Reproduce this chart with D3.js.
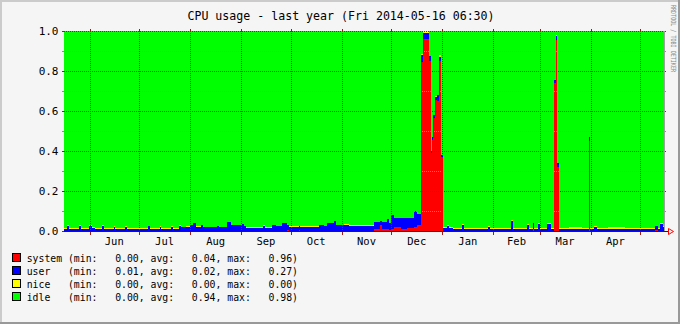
<!DOCTYPE html>
<html><head><meta charset="utf-8">
<script src="https://cdn.jsdelivr.net/npm/d3@7/dist/d3.min.js"></script>
<style>html,body{margin:0;padding:0;background:#f5f5f5}svg{display:block}</style>
</head><body><svg id="c" width="680" height="324"></svg>
<script>
// ---------- data ----------
const title = "CPU usage - last year (Fri 2014-05-16 06:30)";
const watermark = "RRDTOOL / TOBI OETIKER";
const rangeStart = "2013-05-16T12", rangeEnd = "2014-05-15T12";
const monthStarts = ["2013-06-01T00","2013-07-01T00","2013-08-01T00","2013-09-01T00","2013-10-01T00","2013-11-01T00","2013-12-01T00","2014-01-01T00","2014-02-01T00","2014-03-01T00","2014-04-01T00","2014-05-01T00"];
const monthLabels = ["Jun","Jul","Aug","Sep","Oct","Nov","Dec","Jan","Feb","Mar","Apr"];
const yMajorTicks = [0,0.2,0.4,0.6,0.8,1.0];
const yMinorTicks = [0.1,0.3,0.5,0.7,0.9];
const seriesNames = ["system","user","nice","idle"];
const statMin = [0.00,0.01,0.00,0.00];
const statAvg = [0.04,0.02,0.00,0.94];
const statMax = [0.96,0.27,0.00,0.98];

const dates = ["2013-05-16T12","2013-05-18T08","2013-05-19T13","2013-05-25T14","2013-05-26T20","2013-05-31T16","2013-06-02T12","2013-06-04T07","2013-06-08T13","2013-06-09T18",
"2013-06-15T20","2013-06-16T11","2013-06-22T12","2013-06-23T18","2013-07-06T11","2013-07-07T16","2013-07-13T18","2013-07-14T09","2013-07-20T10","2013-07-21T15",
"2013-07-25T07","2013-07-26T12","2013-07-29T13","2013-07-31T23","2013-08-02T19","2013-08-04T14","2013-08-07T15","2013-08-08T20","2013-08-17T08","2013-08-18T13",
"2013-08-23T10","2013-08-25T20","2013-09-01T12","2013-09-02T17","2013-09-03T23","2013-09-14T06","2013-09-15T11","2013-09-19T17","2013-09-22T03","2013-09-25T19",
"2013-09-28T20","2013-09-30T01","2013-10-06T02","2013-10-06T17","2013-10-18T06","2013-10-21T06","2013-10-23T02","2013-10-27T08","2013-10-28T13","2013-11-02T10",
"2013-11-05T11","2013-11-12T17","2013-11-20T15","2013-11-24T06","2013-11-25T11","2013-11-28T12","2013-11-29T17","2013-11-30T22","2013-12-02T18","2013-12-07T00",
"2013-12-10T15","2013-12-14T21","2013-12-16T17","2013-12-19T03","2013-12-20T08","2013-12-23T23","2013-12-25T05","2013-12-25T19","2013-12-26T10","2013-12-27T15",
"2013-12-28T20","2013-12-30T01","2013-12-31T06","2014-01-01T12","2014-01-03T22","2014-01-05T03","2014-01-07T13","2014-01-13T00","2014-01-14T05","2014-01-28T19",
"2014-01-30T00","2014-02-11T18","2014-02-12T23","2014-02-21T11","2014-02-22T16","2014-02-25T02","2014-02-25T17","2014-02-28T03","2014-03-01T08","2014-03-05T14",
"2014-03-08T00","2014-03-09T20","2014-03-11T01","2014-03-11T16","2014-03-12T21","2014-03-18T22","2014-03-26T20","2014-03-30T18","2014-03-31T09","2014-04-03T02",
"2014-04-04T22","2014-04-11T14","2014-04-21T22","2014-05-10T03","2014-05-11T23","2014-05-13T04","2014-05-14T23"];

const system = [0,0,0,0,0,0,0,0,0,0,
0,0,0,0,0,0,0,0,0,0,
0,0,0,0,0,0,0,0,0,0,
0,0,0,0,0,0,0,0,0,0,
.005,0,.005,0,0,0,0,0,0,0,
0,0,.008,.030,.010,.010,.005,.010,.020,.010,
.015,.020,.030,.843,.960,.850,.390,.455,.565,.656,
.650,.850,.370,0,0,0,0,0,0,0,
0,0,0,0,0,.010,0,0,0,0,
0,.740,.955,.320,0,0,0,.450,0,0,
0,0,0,.005,0,0,0];

const user = [.010,.025,.010,.025,.010,.027,.015,.010,.025,.010,
.022,.010,.022,.010,.024,.010,.022,.010,.022,.012,
.026,.018,.022,.030,.040,.022,.028,.018,.025,.020,
.045,.030,.035,.025,.015,.025,.015,.030,.025,.040,
.025,.020,.020,.022,.030,.025,.040,.050,.028,.032,
.025,.027,.035,.020,.035,.050,.035,.070,.045,.055,
.050,.080,.055,.037,.030,.027,.010,.015,.013,.014,
.030,.020,.010,.015,.025,.015,.010,.030,.010,.020,
.010,.050,.010,.030,.010,.030,.010,.035,.012,.033,
.012,.015,.020,.020,.010,.010,.010,.020,.010,.020,
.010,.010,.010,.020,.012,.035,.020];

const nice = [.005,.003,.005,.003,.005,.003,.005,.005,.003,.005,
.003,.005,.003,.005,.003,.005,.003,.005,.003,.005,
.003,.004,.003,.002,.002,.002,.002,.002,.002,.002,
.002,.002,.002,.002,.004,.003,.004,.002,.002,.002,
.002,.003,.002,.003,.002,.002,.002,.002,.004,.002,
.004,.003,.002,.002,.002,.002,.002,.002,.002,.002,
.002,.002,.002,.006,.010,0,0,0,0,.005,
0,.010,0,.003,.005,.005,.005,.003,.005,.003,
.005,.003,.005,.003,.005,.002,.005,.003,.004,.005,
.004,0,.005,0,.005,.008,.005,0,.005,.003,
.005,.008,.005,.002,.005,.003,.003];

const idle = [.985,.972,.985,.972,.985,.970,.980,.985,.972,.985,
.975,.985,.975,.985,.973,.985,.975,.985,.975,.983,
.971,.978,.975,.968,.958,.976,.970,.980,.973,.978,
.953,.968,.963,.973,.981,.972,.981,.968,.973,.958,
.968,.977,.973,.975,.968,.973,.958,.948,.968,.966,
.971,.970,.955,.948,.953,.938,.958,.918,.933,.933,
.933,.898,.913,.114,0,.123,.600,.530,.422,.325,
.320,.120,.620,.982,.970,.980,.985,.967,.985,.977,
.985,.947,.985,.967,.985,.958,.985,.962,.984,.962,
.984,.245,.020,.660,.985,.982,.985,.530,.985,.977,
.985,.982,.985,.973,.983,.962,.977];

// ---------- styles ----------
const colors = {system:"#FF0000", user:"#0000FF", nice:"#FFFF00", idle:"#00FF00"};
const MONO = "'DejaVu Sans Mono', monospace";
const MGRID = "#9a1c1c", GRID = "#8f8f8f";

// ---------- drawing ----------
const parse = d3.timeParse("%Y-%m-%dT%H");
const svg = d3.select("#c");
const W = 680, H = 324;
const L = 64, R = 664, T = 31, B = 231;

svg.append("rect").attr("width", W).attr("height", H).attr("fill", "#f5f5f5");
// 3d frame
svg.append("rect").attr("x",0).attr("y",0).attr("width",W).attr("height",2).attr("fill","#cbcbcb");
svg.append("rect").attr("x",0).attr("y",0).attr("width",2).attr("height",H).attr("fill","#cbcbcb");
svg.append("rect").attr("x",0).attr("y",H-2).attr("width",W).attr("height",2).attr("fill","#999999");
svg.append("rect").attr("x",W-2).attr("y",0).attr("width",2).attr("height",H).attr("fill","#999999");

const x = d3.scaleTime().domain([parse(rangeStart), parse(rangeEnd)]).range([L, R]);
const y = d3.scaleLinear().domain([0, 1]).range([B, T]);

const rows = dates.map((d, i) => ({date: parse(d), system: system[i], user: user[i], nice: nice[i], idle: idle[i]}));
rows.push(Object.assign({}, rows[rows.length - 1], {date: parse(rangeEnd)}));

const stack = d3.stack().keys(seriesNames);
const layers = stack(rows);
const area = d3.area().curve(d3.curveStepAfter)
  .x(d => x(d.data.date)).y0(d => y(d[0])).y1(d => y(d[1]));

svg.append("g").selectAll("path").data(layers).join("path")
  .attr("d", area).attr("fill", d => colors[d.key]).attr("shape-rendering", "crispEdges");

// grid
const g = svg.append("g").attr("shape-rendering", "crispEdges");
function hline(v, color) {
  const yy = Math.round(y(v)) + 0.5;
  g.append("line").attr("x1", L).attr("x2", R).attr("y1", yy).attr("y2", yy)
    .attr("stroke", color).attr("stroke-dasharray", "1,1");
  g.append("line").attr("x1", L - 2).attr("x2", L).attr("y1", yy).attr("y2", yy).attr("stroke", color);
  g.append("line").attr("x1", R).attr("x2", R + 2).attr("y1", yy).attr("y2", yy).attr("stroke", color);
}
yMinorTicks.forEach(v => hline(v, GRID));
yMajorTicks.filter(v => v > 0).forEach(v => hline(v, MGRID));

monthStarts.map(parse).forEach(m => {
  const xx = Math.round(x(m)) + 0.5;
  g.append("line").attr("x1", xx).attr("x2", xx).attr("y1", T).attr("y2", B)
    .attr("stroke", MGRID).attr("stroke-dasharray", "1,1");
  g.append("line").attr("x1", xx).attr("x2", xx).attr("y1", T - 2).attr("y2", T).attr("stroke", MGRID);
  g.append("line").attr("x1", xx).attr("x2", xx).attr("y1", B).attr("y2", B + 4).attr("stroke", MGRID);
});

// right edge + axis
g.append("line").attr("x1", R + 0.5).attr("x2", R + 0.5).attr("y1", T).attr("y2", B).attr("stroke", "#a0a0a0");
g.append("line").attr("x1", L - 2).attr("x2", R + 4).attr("y1", B + 0.5).attr("y2", B + 0.5).attr("stroke", "#222");
g.append("line").attr("x1", L - 2).attr("x2", L).attr("y1", B + 0.5).attr("y2", B + 0.5).attr("stroke", MGRID);
svg.append("path").attr("d", `M${R+4.5},${B-2.5} L${R+9.5},${B+0.5} L${R+4.5},${B+3.5} Z`)
  .attr("fill", "none").attr("stroke", "#ff0000").attr("stroke-width", 1);

// y labels
svg.append("g").selectAll("text").data(yMajorTicks).join("text")
  .attr("x", 58.5).attr("y", d => y(d) + 4)
  .attr("text-anchor", "end").attr("font-family", MONO).attr("font-size", 11)
  .attr("fill", "#000").text(d => d3.format(".1f")(d));

// x labels (centered in month)
const ms = monthStarts.map(parse);
svg.append("g").selectAll("text").data(monthLabels).join("text")
  .attr("x", (d, i) => (x(ms[i]) + x(ms[i + 1])) / 2)
  .attr("y", 245).attr("text-anchor", "middle")
  .attr("font-family", MONO).attr("font-size", 10.5).attr("fill", "#000").text(d => d);

// title
svg.append("text").attr("x", 341).attr("y", 19.5).attr("text-anchor", "middle")
  .attr("font-family", MONO).attr("font-size", 11.6).attr("fill", "#000").text(title);

// watermark
svg.append("text").attr("transform", "translate(671,5) rotate(90)")
  .attr("font-family", MONO).attr("font-size", 7).attr("fill", "#8a8a8a")
  .attr("textLength", 67).attr("lengthAdjust", "spacingAndGlyphs").text(watermark);

// legend
const f = d3.format("7.2f");
const leg = svg.append("g");
seriesNames.forEach((n, i) => {
  const cy = 258 + i * 13;
  leg.append("rect").attr("x", 12.5).attr("y", cy - 4.5).attr("width", 8).attr("height", 8)
    .attr("fill", colors[n]).attr("stroke", "#000").attr("stroke-width", 1);
  const s = n.padEnd(6, " ") + " (min:" + f(statMin[i]) + ", avg:" + f(statAvg[i]) + ", max:" + f(statMax[i]) + ")";
  leg.append("text").attr("x", 26.7).attr("y", cy + 3.5).attr("xml:space", "preserve")
    .style("white-space", "pre").attr("font-family", MONO).attr("font-size", 9.8)
    .attr("fill", "#000").text(s);
});
</script></body></html>
